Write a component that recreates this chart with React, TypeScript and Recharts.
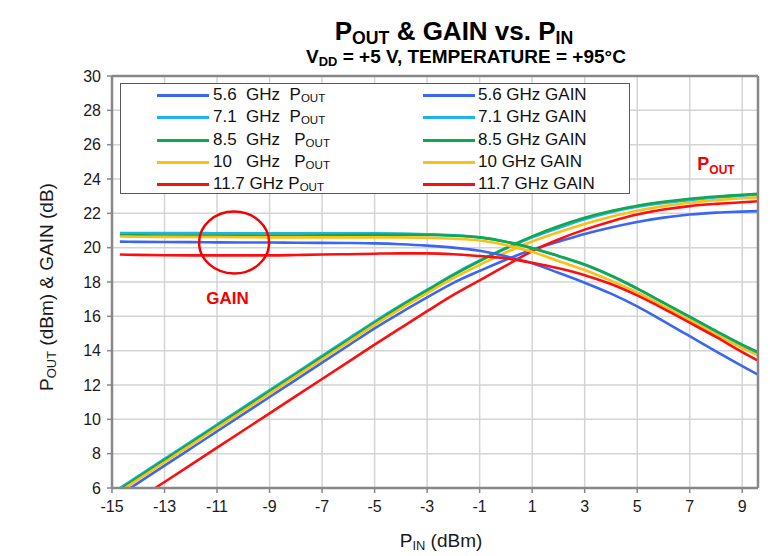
import { LineChart, Line, XAxis, YAxis, CartesianGrid, ReferenceDot } from 'recharts'

// input power sweep (dBm)
const pinDbm = [-14.7, -14, -13, -12, -11, -10, -9, -8, -7, -6, -5, -4, -3, -2, -1, 0, 1, 2, 3, 4, 5, 6, 7, 8, 9, 9.6]

const freqLabels = ['5.6', '7.1', '8.5', '10', '11.7']
const poutNames = ['5.6  GHz  ', '7.1  GHz  ', '8.5  GHz   ', '10   GHz   ', '11.7 GHz ']
const colors = ['#3b66f4', '#1cb2ea', '#0fa84c', '#fcc012', '#fb1010']

const pout56 = [5.6, 6.3, 7.3, 8.3, 9.3, 10.3, 11.3, 12.3, 13.3, 14.3, 15.3, 16.22, 17.1, 17.95, 18.65, 19.3, 19.88, 20.35, 20.8, 21.18, 21.5, 21.75, 21.93, 22.04, 22.1, 22.13]
const pout71 = [6.0, 6.7, 7.7, 8.7, 9.7, 10.7, 11.7, 12.7, 13.7, 14.7, 15.7, 16.65, 17.55, 18.45, 19.25, 19.95, 20.6, 21.15, 21.66, 22.07, 22.38, 22.6, 22.77, 22.92, 23.03, 23.08]
const pout85 = [5.92, 6.62, 7.62, 8.62, 9.62, 10.62, 11.62, 12.62, 13.62, 14.62, 15.62, 16.6, 17.5, 18.4, 19.22, 19.98, 20.66, 21.25, 21.74, 22.13, 22.44, 22.67, 22.85, 22.98, 23.08, 23.14]
const pout10 = [5.8, 6.5, 7.5, 8.5, 9.5, 10.5, 11.5, 12.5, 13.5, 14.5, 15.5, 16.45, 17.35, 18.22, 19.0, 19.72, 20.36, 20.9, 21.38, 21.8, 22.15, 22.42, 22.62, 22.77, 22.88, 22.93]
const pout117 = [4.65, 5.35, 6.35, 7.35, 8.35, 9.35, 10.35, 11.35, 12.35, 13.35, 14.35, 15.33, 16.3, 17.25, 18.1, 18.95, 19.8, 20.48, 21.05, 21.53, 21.93, 22.22, 22.42, 22.55, 22.65, 22.7]

const gain56 = [20.35, 20.34, 20.33, 20.32, 20.31, 20.3, 20.3, 20.29, 20.28, 20.27, 20.25, 20.2, 20.12, 20.0, 19.82, 19.5, 19.09, 18.54, 17.96, 17.32, 16.58, 15.72, 14.84, 13.96, 13.1, 12.6]
const gain71 = [20.85, 20.85, 20.85, 20.85, 20.84, 20.84, 20.84, 20.84, 20.84, 20.83, 20.83, 20.82, 20.78, 20.72, 20.6, 20.35, 19.97, 19.5, 19.0, 18.36, 17.6, 16.78, 15.94, 15.1, 14.28, 13.82]
const gain85 = [20.72, 20.72, 20.71, 20.71, 20.7, 20.7, 20.7, 20.71, 20.72, 20.73, 20.75, 20.75, 20.74, 20.7, 20.6, 20.35, 19.98, 19.52, 19.02, 18.38, 17.63, 16.8, 15.98, 15.15, 14.35, 13.92]
const gain10 = [20.65, 20.64, 20.63, 20.62, 20.62, 20.61, 20.6, 20.6, 20.6, 20.6, 20.6, 20.6, 20.58, 20.52, 20.42, 20.15, 19.76, 19.22, 18.7, 18.08, 17.4, 16.6, 15.78, 14.95, 14.15, 13.72]
const gain117 = [19.6, 19.58, 19.56, 19.55, 19.55, 19.55, 19.55, 19.57, 19.6, 19.62, 19.65, 19.67, 19.67, 19.62, 19.51, 19.38, 19.12, 18.8, 18.4, 17.88, 17.22, 16.45, 15.63, 14.8, 13.92, 13.42]

const poutSeries = [pout56, pout71, pout85, pout10, pout117]
const gainSeries = [gain56, gain71, gain85, gain10, gain117]

const xTicks = [-15, -13, -11, -9, -7, -5, -3, -1, 1, 3, 5, 7, 9]
const yTicks = [6, 8, 10, 12, 14, 16, 18, 20, 22, 24, 26, 28, 30]

const data = pinDbm.map((pin, i) => {
  const row: Record<string, number> = { pin }
  freqLabels.forEach((_, k) => {
    row['pout' + k] = poutSeries[k][i]
    row['gain' + k] = gainSeries[k][i]
  })
  return row
})

const font = 'Arial, "Liberation Sans", sans-serif'
const axisGray = '#878787'

function Sub({ children }: { children: string }) {
  return <span style={{ fontSize: '0.68em', verticalAlign: '-0.2em', lineHeight: 0 }}>{children}</span>
}

function LegendBox() {
  const rowH = 22.3
  return (
    <div
      style={{
        position: 'absolute',
        left: 120,
        top: 83,
        width: 508,
        height: 109,
        background: '#fff',
        border: '1.5px solid #595959',
        fontFamily: font,
        fontSize: 17,
        color: '#111',
      }}
    >
      {freqLabels.map((f, k) => (
        <div key={f}>
          <div style={{ position: 'absolute', left: 36, top: 10 + k * rowH, width: 52, height: 3, background: colors[k] }} />
          <div style={{ position: 'absolute', left: 92, top: 1 + k * rowH, whiteSpace: 'pre', lineHeight: '20px' }}>
            {poutNames[k]}P<Sub>OUT</Sub>
          </div>
          <div style={{ position: 'absolute', left: 302, top: 10 + k * rowH, width: 52, height: 3, background: colors[k] }} />
          <div style={{ position: 'absolute', left: 357, top: 1 + k * rowH, whiteSpace: 'pre', lineHeight: '20px' }}>
            {f} GHz GAIN
          </div>
        </div>
      ))}
    </div>
  )
}

export default function App() {
  return (
    <div style={{ position: 'absolute', left: 0, top: 0, width: 770, height: 556, background: '#fff', fontFamily: font }}>
      <div style={{ position: 'absolute', left: 454, top: 20, transform: 'translateX(-50%)', whiteSpace: 'nowrap', fontWeight: 'bold', fontSize: 26, lineHeight: '22px' }}>
        P<Sub>OUT</Sub> &amp; GAIN vs. P<Sub>IN</Sub>
      </div>
      <div style={{ position: 'absolute', left: 466, top: 49, transform: 'translateX(-50%)', whiteSpace: 'nowrap', fontWeight: 'bold', fontSize: 19, lineHeight: '16px' }}>
        V<Sub>DD</Sub> = +5 V, TEMPERATURE = +95°C
      </div>
      <LineChart width={770} height={556} data={data} margin={{ top: 66, right: 0, bottom: 0, left: 0 }}>
        <CartesianGrid stroke="#d4d4d4" strokeWidth={1.5} verticalValues={xTicks} horizontalValues={yTicks} />
        <XAxis
          dataKey="pin"
          type="number"
          domain={[-15, 9.6]}
          ticks={xTicks}
          allowDataOverflow
          height={68}
          tickSize={5}
          tickMargin={8}
          tick={{ fill: '#1a1a1a', fontSize: 16, fontFamily: font }}
          tickLine={{ stroke: axisGray, strokeWidth: 1.5 }}
          axisLine={{ stroke: axisGray, strokeWidth: 2.5 }}
        />
        <XAxis xAxisId="top" orientation="top" type="number" domain={[-15, 9.6]} height={10} tick={false} tickLine={false} axisLine={{ stroke: axisGray, strokeWidth: 2.5 }} />
        <YAxis
          type="number"
          domain={[6, 30]}
          ticks={yTicks}
          allowDataOverflow
          width={112}
          tickSize={5}
          tickMargin={6}
          tick={{ fill: '#1a1a1a', fontSize: 16, fontFamily: font }}
          tickLine={{ stroke: axisGray, strokeWidth: 1.5 }}
          axisLine={{ stroke: axisGray, strokeWidth: 2.5 }}
        />
        <YAxis yAxisId="right" orientation="right" type="number" domain={[6, 30]} width={12} tick={false} tickLine={false} axisLine={{ stroke: axisGray, strokeWidth: 2.5 }} />
        {freqLabels.map((f, k) => (
          <Line key={'p' + f} dataKey={'pout' + k} type="monotone" stroke={colors[k]} strokeWidth={2.6} dot={false} isAnimationActive={false} />
        ))}
        {freqLabels.map((f, k) => (
          <Line key={'g' + f} dataKey={'gain' + k} type="monotone" stroke={colors[k]} strokeWidth={2.6} dot={false} isAnimationActive={false} />
        ))}
        <ReferenceDot
          x={-10.35}
          y={20.3}
          r={0}
          shape={(p: any) => <ellipse cx={p.cx} cy={p.cy} rx={35} ry={31} fill="none" stroke="#f50000" strokeWidth={2.5} />}
        />
        <ReferenceDot
          x={-10.6}
          y={17.05}
          r={0}
          shape={(p: any) => (
            <text x={p.cx} y={p.cy + 6} textAnchor="middle" fill="#f50000" fontWeight="bold" fontSize={17} fontFamily={font}>
              GAIN
            </text>
          )}
        />
        <ReferenceDot
          x={8}
          y={24.9}
          r={0}
          shape={(p: any) => (
            <text x={p.cx} y={p.cy + 6} textAnchor="middle" fill="#f50000" fontWeight="bold" fontSize={18} fontFamily={font}>
              P<tspan fontSize={12} dy={4}>OUT</tspan>
            </text>
          )}
        />
      </LineChart>
      <LegendBox />
      <div style={{ position: 'absolute', left: 47, top: 287, transform: 'translate(-50%, -50%) rotate(-90deg)', whiteSpace: 'nowrap', fontSize: 19, color: '#1a1a1a' }}>
        P<Sub>OUT</Sub> (dBm) &amp; GAIN (dB)
      </div>
      <div style={{ position: 'absolute', left: 441, top: 541, transform: 'translate(-50%, -50%)', whiteSpace: 'nowrap', fontSize: 19, color: '#1a1a1a' }}>
        P<Sub>IN</Sub> (dBm)
      </div>
    </div>
  )
}
